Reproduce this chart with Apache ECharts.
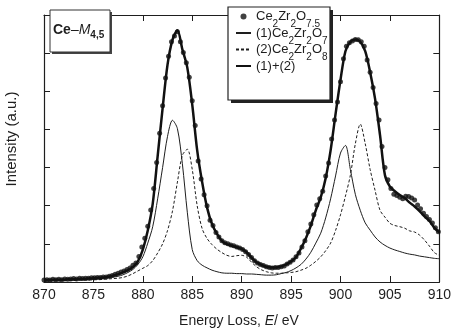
<!DOCTYPE html>
<html>
<head>
<meta charset="utf-8">
<script src="https://cdn.jsdelivr.net/npm/echarts@6/dist/echarts.min.js"></script>
<style>
html, body { margin: 0; padding: 0; background: #fff; }
#chart { width: 454px; height: 330px; }
</style>
</head>
<body>
<div id="chart"></div>
<script>
// fit curves sampled every 0.5 eV, 870 -> 910
const energy = Array.from({ length: 81 }, (_, i) => 870 + i * 0.5);

// (1) Ce2Zr2O7 - thin line
const fit1 = [
  0.05, 0.05, 0.06, 0.06, 0.06, 0.07, 0.07, 0.08, 0.08, 0.09,
  0.09, 0.10, 0.11, 0.12, 0.13, 0.15, 0.19, 0.25, 0.33, 0.46,
  0.66, 1.02, 1.45, 2.18, 3.00, 3.82, 4.24, 4.02, 3.10, 1.83,
  0.85, 0.56, 0.44, 0.37, 0.31, 0.27, 0.24, 0.23, 0.23, 0.22,
  0.22, 0.21, 0.21, 0.20, 0.19, 0.18, 0.18, 0.19, 0.22, 0.25,
  0.30, 0.37, 0.46, 0.60, 0.78, 1.02, 1.28, 1.68, 2.18, 2.78,
  3.38, 3.58, 2.95, 2.30, 1.88, 1.55, 1.36, 1.18, 1.05, 0.96,
  0.89, 0.84, 0.80, 0.76, 0.73, 0.71, 0.68, 0.66, 0.64, 0.62, 0.61
];

// (2) Ce2Zr2O8 - dashed line
const fit2 = [
  0.03, 0.03, 0.03, 0.03, 0.04, 0.04, 0.04, 0.05, 0.05, 0.05,
  0.06, 0.06, 0.07, 0.08, 0.09, 0.10, 0.12, 0.16, 0.22, 0.29,
  0.36, 0.43, 0.56, 0.76, 1.00, 1.35, 1.86, 2.62, 3.32, 3.48,
  2.95, 2.00, 1.40, 1.14, 0.98, 0.86, 0.77, 0.70, 0.67, 0.69,
  0.70, 0.65, 0.52, 0.40, 0.32, 0.27, 0.24, 0.23, 0.23, 0.24,
  0.25, 0.27, 0.31, 0.36, 0.44, 0.54, 0.66, 0.82, 1.02, 1.35,
  1.76, 2.25, 2.80, 3.62, 4.14, 3.63, 2.95, 2.40, 1.88, 1.70,
  1.54, 1.48, 1.45, 1.41, 1.34, 1.31, 1.23, 1.10, 0.94, 0.77, 0.70
];

// (1)+(2) - thick line
const fitSum = [
  0.05, 0.05, 0.06, 0.06, 0.06, 0.07, 0.07, 0.08, 0.08, 0.09,
  0.10, 0.11, 0.12, 0.14, 0.17, 0.20, 0.25, 0.31, 0.39, 0.54,
  0.85, 1.35, 2.05, 3.30, 4.55, 5.70, 6.35, 6.60, 6.10, 5.62,
  4.65, 3.45, 2.62, 1.95, 1.52, 1.26, 1.08, 0.99, 0.95, 0.91,
  0.87, 0.78, 0.64, 0.52, 0.45, 0.40, 0.38, 0.38, 0.41, 0.46,
  0.54, 0.65, 0.88, 1.15, 1.48, 1.88, 2.22, 2.72, 3.45, 4.40,
  5.30, 6.05, 6.30, 6.36, 6.30, 6.05, 5.50, 4.80, 3.85, 2.80,
  2.50, 2.38, 2.28, 2.20, 2.08, 1.98, 1.86, 1.72, 1.60, 1.42, 1.30
];

// measured Ce2Zr2O7.5, every 0.3 eV
const expEnergy = Array.from({ length: 134 }, (_, i) => +(870 + i * 0.3).toFixed(1));
const expData = [
  0.05, 0.06, 0.05, 0.07, 0.06, 0.07, 0.06, 0.08, 0.07, 0.08,
  0.09, 0.08, 0.10, 0.09, 0.10, 0.10, 0.11, 0.11, 0.12, 0.12,
  0.13, 0.13, 0.15, 0.17, 0.20, 0.23, 0.26, 0.29, 0.33, 0.37,
  0.44, 0.50, 0.67, 0.92, 1.15, 1.46, 1.89, 2.45, 3.13, 3.90,
  4.62, 5.35, 5.92, 6.30, 6.45, 6.56, 6.30, 6.02, 5.75, 5.37,
  4.75, 4.10, 3.17, 2.70, 2.29, 2.00, 1.62, 1.48, 1.30, 1.18,
  1.08, 1.03, 1.00, 0.97, 0.95, 0.92, 0.89, 0.85, 0.79, 0.72,
  0.64, 0.56, 0.50, 0.46, 0.43, 0.40, 0.38, 0.37, 0.38, 0.38,
  0.40, 0.42, 0.47, 0.52, 0.58, 0.66, 0.76, 0.92, 1.08, 1.32,
  1.52, 1.76, 2.02, 2.18, 2.38, 2.78, 3.12, 3.75, 4.25, 4.72,
  5.25, 5.85, 6.18, 6.27, 6.32, 6.36, 6.35, 6.30, 6.18, 5.82,
  5.50, 5.10, 4.68, 4.25, 3.55, 3.00, 2.68, 2.45, 2.30, 2.27,
  2.22, 2.18, 2.25, 2.24, 2.20, 2.15, 2.02, 1.92, 1.80, 1.72,
  1.64, 1.55, 1.42, 1.32
];

const names = ["Ce2Zr2O7.5", "(1)Ce2Zr2O7", "(2)Ce2Zr2O8", "(1)+(2)"];
const legendText = {
  "Ce2Zr2O7.5": "{b|Ce}{s|2}{b|Zr}{s|2}{b|O}{s|7.5}",
  "(1)Ce2Zr2O7": "{b|(1)Ce}{s|2}{b|Zr}{s|2}{b|O}{s|7}",
  "(2)Ce2Zr2O8": "{b|(2)Ce}{s|2}{b|Zr}{s|2}{b|O}{s|8}",
  "(1)+(2)": "{b|(1)+(2)}"
};

const font = "'Liberation Sans', Arial, sans-serif";
const ink = "#1e1e1e";

var chart = echarts.init(document.getElementById("chart"));

function pairs(xs, ys) {
  return xs.map((x, i) => [x, ys[i]]);
}

const axisCommon = {
  type: "value",
  axisLine: { show: true, onZero: false, lineStyle: { color: ink, width: 1.2 } },
  axisTick: { show: true, inside: true, length: 6, lineStyle: { color: ink, width: 1 } },
  splitLine: { show: false }
};

const noSymbol = { opacity: 0 };

var option = {
  animation: false,
  grid: { left: 44, top: 15, right: 13, bottom: 48 },
  xAxis: [
    Object.assign({}, axisCommon, {
      position: "bottom", min: 870, max: 910, interval: 5,
      axisLabel: { color: ink, fontSize: 14, fontFamily: font, margin: 6 }
    }),
    Object.assign({}, axisCommon, {
      position: "top", min: 870, max: 910, interval: 5,
      axisLabel: { show: false }
    })
  ],
  yAxis: [
    Object.assign({}, axisCommon, {
      position: "left", min: 0, max: 7, interval: 1,
      axisLabel: { show: false }
    }),
    Object.assign({}, axisCommon, {
      position: "right", min: 0, max: 7, interval: 1,
      axisLabel: { show: false }
    })
  ],
  legend: {
    orient: "vertical",
    left: 230,
    top: 5,
    z: 6,
    itemWidth: 15,
    itemHeight: 6,
    itemGap: -3,
    data: [
      { name: names[0], icon: "circle" },
      { name: names[1], itemStyle: noSymbol },
      { name: names[2], itemStyle: noSymbol },
      { name: names[3], itemStyle: noSymbol }
    ],
    formatter: (name) => legendText[name],
    textStyle: {
      color: ink,
      fontFamily: font,
      rich: {
        b: { fontSize: 13, lineHeight: 26, fontFamily: font, color: ink },
        s: { fontSize: 10, lineHeight: 10, verticalAlign: "bottom", fontFamily: font, color: ink }
      }
    }
  },
  graphic: [
    // legend frame
    { type: "rect", z: 3, shape: { x: 231, y: 10, width: 102, height: 93 }, style: { fill: "#222" } },
    { type: "rect", z: 3, shape: { x: 228, y: 7, width: 102, height: 93 }, style: { fill: "#fff", stroke: "#222", lineWidth: 1.2 } },
    // edge label
    { type: "rect", z: 3, shape: { x: 52, y: 12, width: 60, height: 42 }, style: { fill: "#444" } },
    { type: "rect", z: 3, shape: { x: 50, y: 10, width: 60, height: 42 }, style: { fill: "#fff", stroke: "#333", lineWidth: 1 } },
    {
      type: "text", z: 4, x: 53, y: 20,
      style: {
        text: "{b|Ce}{d|–}{i|M}{s|4,5}",
        rich: {
          b: { fontSize: 14, fontWeight: "bold", lineHeight: 20, fontFamily: font, fill: ink },
          d: { fontSize: 14, lineHeight: 20, fontFamily: font, fill: ink },
          i: { fontSize: 14, fontStyle: "italic", lineHeight: 20, fontFamily: font, fill: ink },
          s: { fontSize: 10, fontWeight: "bold", lineHeight: 10, verticalAlign: "bottom", fontFamily: font, fill: ink }
        }
      }
    },
    // axis titles
    {
      type: "text", z: 4, x: 239, y: 321,
      style: {
        text: "{n|Energy Loss, }{e|E}{n|/ eV}",
        align: "center", verticalAlign: "middle",
        rich: {
          n: { fontSize: 14, fontFamily: font, fill: ink },
          e: { fontSize: 14, fontStyle: "italic", fontFamily: font, fill: ink }
        }
      }
    },
    {
      type: "text", z: 4, x: 12, y: 139, rotation: Math.PI / 2,
      style: {
        text: "Intensity (a.u.)", fontSize: 15, fontFamily: font, fill: ink,
        align: "center", verticalAlign: "middle"
      }
    }
  ],
  series: [
    {
      name: names[1], type: "line", data: pairs(energy, fit1),
      symbol: "none", smooth: 0.3, z: 2,
      lineStyle: { color: ink, width: 1 }, itemStyle: { color: ink }
    },
    {
      name: names[2], type: "line", data: pairs(energy, fit2),
      symbol: "none", smooth: 0.3, z: 2,
      lineStyle: { color: ink, width: 1, type: [3, 2] }, itemStyle: { color: ink }
    },
    {
      name: names[3], type: "line", data: pairs(energy, fitSum),
      symbol: "none", smooth: 0.3, z: 3,
      lineStyle: { color: "#111", width: 2.5 }, itemStyle: { color: "#111" }
    },
    {
      name: names[0], type: "scatter", data: pairs(expEnergy, expData),
      symbolSize: 5, z: 4,
      itemStyle: { color: "#111" }
    }
  ]
};

chart.setOption(option);
</script>
</body>
</html>
